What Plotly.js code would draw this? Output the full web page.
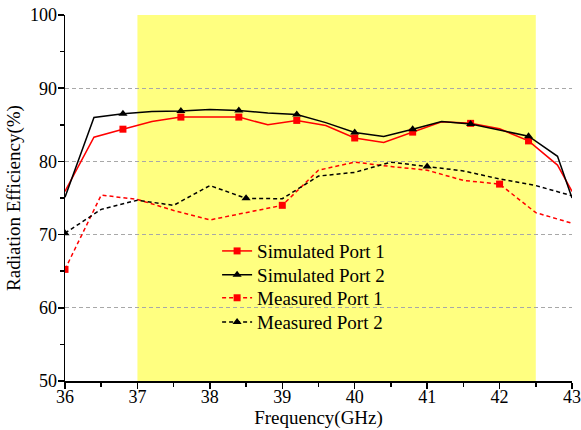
<!DOCTYPE html>
<html>
<head>
<meta charset="utf-8">
<script src="https://cdn.plot.ly/plotly-3.0.1.min.js"></script>
<style>
  html, body { margin: 0; padding: 0; background: #fff; }
  #chart { width: 581px; height: 430px; }
</style>
</head>
<body>
<div id="chart"></div>
<script>
// Frequency grids (GHz)
const freqSim = [36.0, 36.4, 36.8, 37.2, 37.6, 38.0, 38.4, 38.8, 39.2, 39.6, 40.0,
                 40.4, 40.8, 41.2, 41.6, 42.0, 42.4, 42.8, 43.0];
const freqMeas = [36.0, 36.5, 37.0, 37.5, 38.0, 38.5, 39.0, 39.5, 40.0, 40.5, 41.0,
                  41.5, 42.0, 42.5, 43.0];

// Radiation efficiency (%)
const simPort1 = [75.9, 83.3, 84.4, 85.45, 86.05, 86.1, 86.05, 85.0, 85.6, 84.9, 83.2,
                  82.6, 84.0, 85.4, 85.2, 84.45, 82.8, 79.5, 75.9];
const simPort2 = [75.1, 86.0, 86.5, 86.8, 86.9, 87.1, 86.95, 86.6, 86.4, 85.3, 83.95,
                  83.4, 84.4, 85.45, 85.1, 84.3, 83.45, 80.7, 75.0];
const measPort1 = [65.25, 75.4, 74.8, 73.3, 72.0, 73.0, 74.0, 78.8, 79.9, 79.3, 78.8,
                   77.4, 76.9, 73.0, 71.55];
const measPort2 = [70.2, 73.45, 74.7, 74.0, 76.7, 74.95, 74.9, 78.0, 78.5, 79.9, 79.3,
                   78.7, 77.6, 76.7, 75.3];

// Frequencies that carry a symbol on each curve
const simMarkFreq = [36.8, 37.6, 38.4, 39.2, 40.0, 40.8, 41.6, 42.4];
const meas1MarkFreq = [36.0, 39.0, 42.0];
const meas2MarkFreq = [36.0, 38.5, 41.0];

// Operating band shading (GHz)
const bandStart = 37.0;
const bandEnd = 42.5;

const names = ['Simulated Port 1', 'Simulated Port 2', 'Measured Port 1', 'Measured Port 2'];

function pick(xs, ys, keep) {
  const px = [], py = [];
  xs.forEach((x, i) => {
    if (keep.some(k => Math.abs(k - x) < 1e-6)) { px.push(x); py.push(ys[i]); }
  });
  return { x: px, y: py };
}

const series = [
  { x: freqSim, y: simPort1, marks: simMarkFreq, color: '#ff0000', dash: 'solid', symbol: 'square', size: 7 },
  { x: freqSim, y: simPort2, marks: simMarkFreq, color: '#000000', dash: 'solid', symbol: 'triangle-up', size: 8 },
  { x: freqMeas, y: measPort1, marks: meas1MarkFreq, color: '#ff0000', dash: '4px,3px', symbol: 'square', size: 7 },
  { x: freqMeas, y: measPort2, marks: meas2MarkFreq, color: '#000000', dash: '4px,3px', symbol: 'triangle-up', size: 8 }
];

const legendIds = ['legend', 'legend2', 'legend3', 'legend4'];
const legendY = [0.355, 0.290, 0.227, 0.161];

const traces = [];
series.forEach((s, i) => {
  traces.push({
    type: 'scatter', mode: 'lines', x: s.x, y: s.y, showlegend: false,
    line: { color: s.color, width: 1.5, dash: s.dash }, hoverinfo: 'skip'
  });
  const m = pick(s.x, s.y, s.marks);
  traces.push({
    type: 'scatter', mode: 'markers', x: m.x, y: m.y, showlegend: false,
    marker: { color: s.color, symbol: s.symbol, size: s.size, line: { width: 0 } }
  });
});
// legend entries (line + symbol), one legend box per row
series.forEach((s, i) => {
  traces.push({
    type: 'scatter', mode: 'lines+markers', x: [null], y: [null], name: names[i],
    legend: legendIds[i],
    line: { color: s.color, width: 1.5, dash: s.dash },
    marker: { color: s.color, symbol: s.symbol, size: s.size, line: { width: 0 } }
  });
});

const font = { family: '"Liberation Serif", "Times New Roman", serif', color: '#000' };

const layout = {
  width: 581, height: 430,
  margin: { l: 65, r: 9, t: 15, b: 49 },
  paper_bgcolor: '#ffffff',
  plot_bgcolor: '#ffffff',
  font: Object.assign({ size: 18 }, font),
  showlegend: true,
  shapes: [{
    type: 'rect', xref: 'x', yref: 'paper', x0: bandStart, x1: bandEnd, y0: 0, y1: 1,
    fillcolor: '#ffff80', line: { width: 0 }, layer: 'below'
  }],
  xaxis: {
    range: [36, 43], dtick: 1, tick0: 36,
    ticks: 'outside', ticklen: 6, tickwidth: 1.5, tickcolor: '#000',
    minor: { dtick: 0.5, ticks: 'outside', ticklen: 4, tickwidth: 1.5, tickcolor: '#000', showgrid: false },
    showline: true, linecolor: '#000', linewidth: 1.5,
    showgrid: false, zeroline: false,
    ticklabelstandoff: -7,
    tickfont: Object.assign({ size: 18 }, font),
    title: { text: 'Frequency(GHz)', font: Object.assign({ size: 19 }, font), standoff: 0 }
  },
  yaxis: {
    range: [50, 100], dtick: 10, tick0: 50,
    ticks: 'outside', ticklen: 6, tickwidth: 1.5, tickcolor: '#000',
    minor: { dtick: 5, ticks: 'outside', ticklen: 4, tickwidth: 1.5, tickcolor: '#000', showgrid: false },
    showline: true, linecolor: '#000', linewidth: 1.5,
    showgrid: true, gridcolor: '#a8a8a8', gridwidth: 1, griddash: '4px,3px',
    zeroline: false,
    ticklabelstandoff: -3,
    tickfont: Object.assign({ size: 18 }, font),
    title: { text: 'Radiation Efficiency(%)', font: Object.assign({ size: 19 }, font), standoff: 4 }
  },
  xaxis2: {
    overlaying: 'x', side: 'top', anchor: 'y', range: [36, 43], dtick: 1, tick0: 36,
    ticks: 'inside', ticklen: 6, tickwidth: 1.5, tickcolor: '#000',
    minor: { dtick: 0.5, ticks: 'inside', ticklen: 4, tickwidth: 1.5, tickcolor: '#000' },
    showticklabels: false, showline: true, linecolor: '#000', linewidth: 1.5,
    showgrid: false, zeroline: false
  },
  yaxis2: {
    overlaying: 'y', side: 'right', anchor: 'x', range: [0, 14], dtick: 1, tick0: 0,
    ticks: 'inside', ticklen: 5, tickwidth: 1.5, tickcolor: '#000',
    showticklabels: false, showline: true, linecolor: '#000', linewidth: 1.5,
    showgrid: false, zeroline: false
  }
};

legendIds.forEach((id, i) => {
  layout[id] = {
    x: 0.30, y: legendY[i], xanchor: 'left', yanchor: 'middle',
    bgcolor: 'rgba(0,0,0,0)', borderwidth: 0,
    font: Object.assign({ size: 19 }, font)
  };
});

Plotly.newPlot('chart', traces, layout, { staticPlot: true, displayModeBar: false });
</script>
</body>
</html>
